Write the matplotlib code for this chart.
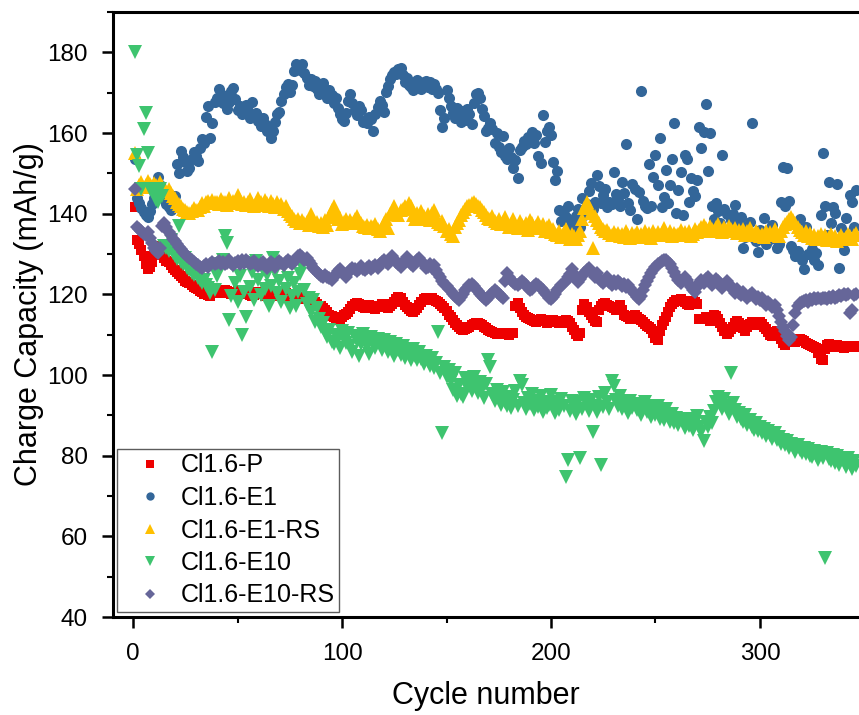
import numpy as np
import matplotlib
matplotlib.use("Agg")
import matplotlib.pyplot as plt
from matplotlib.ticker import MultipleLocator

plt.rcParams['font.family'] = ['Liberation Sans', 'DejaVu Sans']

# Charge capacity (mAh/g) per cycle, starting at cycle 1
cl16_p = [
    141.6, 133.4, 132.5, 131.0, 129.5, 127.5, 126.2, 126.8, 128.0, 130.5,
    132.0, 131.5, 130.4, 129.8, 129.0, 128.3, 127.9, 127.2, 126.5, 126.0,
    125.6, 125.0, 124.6, 124.0, 123.4, 123.0, 122.7, 122.3, 121.9, 121.6,
    121.2, 120.8, 120.5, 120.2, 120.0, 119.8, 119.7, 120.3, 120.8, 121.0,
    120.6, 120.4, 120.7, 121.0, 120.8, 120.5, 120.2, 120.0, 120.4, 120.8,
    121.1, 120.9, 120.6, 120.3, 120.1, 119.8, 119.6, 119.9, 120.3, 120.6,
    120.4, 120.0, 119.7, 119.5, 119.8, 120.2, 120.5, 120.3, 119.9, 119.6,
    119.8, 120.1, 120.4, 120.0, 119.6, 119.3, 119.5, 119.8, 119.4, 119.0,
    118.8, 119.2, 119.5, 119.0, 118.6, 118.3, 118.0, 117.6, 117.2, 117.0,
    116.5, 116.0, 115.5, 115.0, 114.6, 114.3, 114.0, 113.7, 114.0, 114.4,
    114.8, 115.2, 115.6, 116.3, 117.0, 117.6, 117.9, 117.5, 117.2, 116.9,
    116.7, 117.0, 117.3, 117.0, 116.6, 116.4, 116.8, 117.2, 117.5, 117.1,
    116.8, 116.5, 117.0, 117.6, 118.2, 118.8, 119.3, 119.0, 118.2, 117.4,
    116.8, 116.3, 115.9, 115.6, 116.0, 116.6, 117.4, 118.2, 118.8, 119.0,
    118.6, 118.9, 119.1, 118.7, 118.4, 118.0, 117.6, 117.2, 116.5, 115.8,
    115.0, 114.3, 113.6, 112.9, 112.3, 111.8, 111.4, 111.1, 111.3, 111.7,
    112.0, 112.4, 112.6, 112.9, 113.0, 112.7, 112.4, 112.0, 111.6, 111.2,
    110.9, 110.6, 110.4, 110.2, 110.1, 110.3, 110.5, 110.4, 110.2, 110.0,
    110.3, 110.5, 117.0, 117.8, 116.5, 115.6, 114.9, 114.5, 114.2, 113.9,
    113.6, 113.4, 113.2, 113.5, 113.8, 113.6, 113.3, 113.0, 113.2, 113.5,
    113.7, 113.4, 113.1, 112.8, 113.0, 113.3, 113.6, 113.4, 112.8, 112.0,
    111.2, 110.2, 109.6, 110.5, 116.0, 117.6, 116.8, 115.6, 114.8, 114.2,
    113.5, 113.2, 116.0, 117.0, 117.5, 117.8, 117.4, 117.0, 116.8, 116.5,
    116.2, 116.8, 117.3, 116.0, 115.0, 114.6, 114.3, 114.0, 114.4, 114.8,
    114.5, 114.0, 113.6, 113.2, 112.7, 112.2, 111.8, 111.3, 110.5, 109.2,
    108.8, 111.0, 112.4, 113.5, 114.5, 115.6, 116.8, 117.6, 118.2, 118.5,
    118.6, 118.8, 118.4, 118.0, 117.6, 117.3, 117.8, 118.3, 118.0, 117.5,
    114.0, 113.8, 114.0, 114.3, 113.9, 113.5, 114.2, 115.0, 114.6, 114.0,
    113.0, 111.8, 110.8, 110.2, 110.6, 111.3, 112.0, 112.8, 113.4, 113.0,
    112.4, 111.6, 111.0, 111.8, 112.6, 113.2, 113.0, 112.5, 112.8, 113.2,
    112.7, 112.0, 111.3, 110.6, 110.0, 109.6, 110.5, 111.0, 110.2, 108.9,
    108.0, 107.4, 108.6, 109.2, 109.0, 108.6, 108.2, 108.5, 109.0, 108.8,
    108.4, 108.0, 107.8, 107.5, 107.2, 107.0, 106.8, 105.5, 104.0, 103.8,
    106.5, 107.4, 107.6, 107.2, 107.0, 107.3, 107.5, 107.2, 107.0, 106.8,
    107.0, 107.2, 107.1, 106.9, 107.0, 107.2,
]

cl16_e1 = [
    153.5, 144.0, 142.6, 141.4, 140.4, 139.6, 139.2, 140.6, 142.4, 143.8,
    146.4, 149.0, 147.0, 145.2, 143.6, 142.4, 141.6, 140.8, 142.2, 144.4,
    152.4, 150.2, 155.6, 154.0, 152.8, 150.6, 151.2, 153.6, 155.2, 154.2,
    153.0, 156.4, 158.6, 157.6, 164.0, 166.8, 158.8, 162.4, 167.6, 168.6,
    171.0, 169.6, 167.4, 169.2, 166.0, 167.8, 170.4, 171.2, 168.4, 165.6,
    166.8, 164.6, 166.2, 167.0, 165.4, 163.8, 167.6, 164.2, 165.0, 163.0,
    161.8, 163.6, 162.2, 160.4, 161.0, 158.8, 160.6, 162.8, 164.6, 165.2,
    168.0, 169.6, 171.4, 172.2, 170.2, 171.8, 175.4, 177.2, 176.6, 175.6,
    177.0, 174.8, 173.6, 172.0, 173.4, 171.6, 172.8, 170.8, 169.6, 171.6,
    172.4, 170.2, 168.8, 170.6, 169.4, 167.4, 168.6, 166.2, 164.8, 163.4,
    163.0, 165.0, 168.0, 169.6, 167.4, 165.8, 164.4, 166.8, 165.6, 162.8,
    163.2, 162.6, 164.0, 163.4, 160.6, 164.8, 166.4, 168.0, 167.0, 165.2,
    170.2, 171.6, 173.4, 174.4, 175.2, 174.6, 175.8, 176.0, 174.4, 172.6,
    173.6, 172.0, 171.4, 170.6, 172.4, 173.2, 171.8, 170.8, 172.6, 173.0,
    171.4, 172.6, 171.0, 172.2, 170.8, 170.0, 165.6, 161.4, 163.8, 170.6,
    168.6, 166.8, 165.0, 163.6, 166.2, 164.4, 162.8, 165.4, 163.2, 166.0,
    164.6, 162.2, 167.4, 169.6, 170.0, 168.8, 166.0, 164.2, 160.4, 161.2,
    162.4, 161.0, 157.4, 160.0, 156.6, 155.2, 159.2, 154.4, 153.6, 156.2,
    154.0, 151.2, 153.2, 148.8, 155.8, 156.6, 158.0, 157.2, 159.0, 158.4,
    160.2, 157.6, 159.6, 154.2, 152.6, 164.4, 157.8, 160.6, 161.6, 159.4,
    152.8, 148.4, 150.6, 141.0, 138.2, 140.0, 139.2, 142.0, 136.4, 137.6,
    135.8, 139.4, 141.2, 136.6, 143.8, 139.6, 142.4, 145.6, 147.6, 141.2,
    143.0, 149.6, 146.8, 142.6, 144.6, 146.2, 141.6, 143.0, 142.4, 150.4,
    144.8, 143.4, 141.8, 147.8, 145.2, 157.2, 142.6, 141.0, 147.4, 146.0,
    138.8, 145.4, 170.4, 143.2, 142.0, 141.4, 152.2, 141.8, 149.0, 154.6,
    147.0, 158.8, 141.6, 144.2, 150.8, 142.6, 147.2, 153.6, 162.4, 140.2,
    145.8, 150.4, 139.6, 154.6, 153.6, 143.0, 148.8, 145.6, 144.4, 148.4,
    161.4, 156.4, 160.2, 167.2, 150.6, 160.0, 142.0, 138.8, 142.6, 140.6,
    137.8, 154.6, 141.2, 139.8, 136.2, 138.4, 140.0, 142.2, 135.4, 137.6,
    139.2, 131.4, 134.2, 136.6, 138.0, 162.4, 134.0, 133.2, 130.6, 136.0,
    134.8, 139.0, 132.6, 135.4, 133.6, 137.2, 134.4, 131.6, 132.6, 143.0,
    151.6, 142.0, 151.2, 143.2, 132.0, 131.0, 129.6, 130.8, 138.8, 128.4,
    126.4, 136.6, 130.0, 133.8, 131.2, 128.6, 130.2, 127.2, 139.6, 155.0,
    142.0, 134.6, 147.8, 137.8, 141.6, 140.2, 147.4, 126.6, 136.4, 131.0,
    139.0, 133.4, 144.6, 143.0, 136.6, 145.8,
]

cl16_e1_rs = [
    155.0, 146.0, 147.2, 147.8, 146.6, 147.0, 148.0, 147.4, 146.8, 147.6,
    147.0, 146.4, 147.8, 146.8, 146.2, 145.6, 146.0, 145.2, 144.4, 143.8,
    143.0, 142.4, 141.8, 141.2, 140.8, 140.4, 140.2, 140.6, 141.4, 141.0,
    140.8, 141.6, 142.6, 142.0, 142.8, 143.2, 142.6, 143.4, 142.8, 143.0,
    142.4, 143.6, 142.8, 143.0, 142.2, 143.8, 142.6, 143.2, 142.8, 144.6,
    143.4, 142.4, 143.0, 142.2, 142.8, 143.6, 142.4, 142.0, 142.6, 143.8,
    142.8, 142.2, 143.4, 142.6, 141.8, 143.2, 142.4, 141.6, 142.8, 141.8,
    142.4, 141.2, 141.8, 140.6, 140.0, 139.4, 138.8, 138.2, 138.6, 137.8,
    138.4, 137.6, 138.0, 137.2, 139.8, 138.2, 137.4, 138.0, 137.0, 137.6,
    136.8, 138.4, 137.2, 139.2, 140.8, 141.8, 140.2, 138.6, 139.0, 137.4,
    138.0, 138.8, 137.6, 138.4, 137.8, 138.6, 139.4, 138.2, 137.6, 137.0,
    136.6, 137.2, 136.4, 137.0, 136.8, 137.4, 136.2, 135.8, 136.4, 137.6,
    138.6, 136.4, 139.8, 140.6, 141.8, 140.4, 139.6, 140.8, 141.2, 142.0,
    141.4, 142.6, 141.8, 139.6, 138.8, 140.2, 139.0, 140.6, 139.4, 138.6,
    139.8, 138.4, 140.2, 141.0, 139.2, 138.0, 137.4, 138.2, 137.0, 135.6,
    136.2, 135.0, 134.4, 136.6, 137.8, 138.4, 139.6, 140.4, 141.2, 141.8,
    142.2, 142.6, 142.8, 142.4, 142.0, 141.6, 141.0, 140.4, 139.6, 139.0,
    138.6, 139.4, 138.2, 137.6, 138.8, 137.4, 138.0, 139.2, 137.8, 136.8,
    137.4, 138.6, 137.0, 136.4, 138.2, 137.2, 136.6, 137.8, 136.0, 138.4,
    137.6, 136.4, 137.0, 138.0, 136.8, 137.4, 135.8, 136.6, 137.2, 135.4,
    136.2, 135.0, 134.6, 135.8, 134.2, 135.4, 136.2, 134.8, 133.8, 135.0,
    134.4, 133.6, 134.8, 135.8, 138.6, 141.4, 142.8, 141.6, 140.2, 131.4,
    139.4, 138.4, 137.6, 136.8, 136.2, 135.6, 136.0, 135.2, 134.8, 135.4,
    134.6, 135.2, 134.4, 135.0, 134.2, 135.6, 134.8, 134.0, 135.2, 134.6,
    135.4, 134.2, 135.0, 134.4, 135.8, 134.6, 135.2, 134.0, 135.6, 134.8,
    135.4, 134.6, 135.2, 136.4, 135.0, 134.8, 135.6, 134.4, 135.2, 134.6,
    135.0, 136.0, 134.8, 135.4, 134.6, 135.8, 134.4, 135.0, 136.2, 135.4,
    136.0, 136.8, 137.2, 136.4, 135.8, 137.0, 136.2, 135.6, 136.8, 137.4,
    136.0, 135.4, 136.6, 135.8, 137.0, 136.2, 135.6, 136.4, 135.2, 136.0,
    135.4, 136.2, 134.8, 135.6, 136.4, 135.0, 134.6, 135.8, 135.2, 134.4,
    135.0, 134.2, 135.6, 134.8, 135.4, 134.6, 136.2, 135.0, 134.4, 135.8,
    136.6, 137.4, 138.0, 138.8, 139.2, 138.4, 137.6, 136.8, 136.0, 135.4,
    134.8, 135.6, 134.4, 135.2, 134.0, 134.8, 133.6, 134.4, 135.0, 133.8,
    134.6, 133.4, 134.2, 135.0, 133.8, 134.4, 133.2, 134.0, 134.8, 133.6,
    134.2, 135.0, 134.4, 133.8, 134.6, 135.2,
]

cl16_e10 = [
    180.0, 154.5, 151.7, 146.0, 161.0, 165.0, 155.0, 146.0, 145.5, 145.0,
    143.5, 142.8, 146.0, 144.5, 132.0, 131.5, 130.8, 133.5, 130.2, 129.6,
    128.8, 137.0, 128.0, 127.5, 129.0, 126.6, 126.0, 125.3, 124.8, 125.6,
    124.0, 123.5, 122.8, 123.6, 122.2, 121.5, 120.3, 105.7, 121.0, 124.5,
    126.3, 127.5, 128.6, 134.5, 132.7, 113.6, 119.5, 127.0, 122.8, 118.0,
    124.6, 109.9, 120.5, 114.4, 127.8, 121.8, 125.6, 118.6, 128.2, 123.5,
    119.8, 126.0, 121.2, 124.8, 117.2, 122.0, 129.0, 125.5, 120.4, 123.2,
    118.0, 126.8, 121.4, 124.0, 116.5, 119.6, 122.8, 117.0, 120.5, 125.0,
    126.7, 121.0, 117.5, 119.0, 115.6, 118.6, 113.2, 116.6, 114.0, 111.8,
    112.8, 110.6, 109.4, 111.2, 108.2, 107.6, 110.0, 109.0, 106.8, 110.8,
    109.2, 108.0, 110.5, 107.2, 105.8, 109.6, 108.4, 104.8, 107.6, 110.2,
    108.8, 107.0, 105.2, 109.4, 108.0, 106.6, 109.0, 107.8, 106.2, 108.6,
    107.4, 105.8, 108.2, 106.8, 104.6, 107.6, 106.2, 105.0, 107.2, 104.2,
    106.0, 105.2, 103.8, 106.4, 104.8, 103.6, 105.6, 104.0, 102.8, 104.6,
    103.4, 102.2, 104.2, 101.8, 103.0, 110.6, 100.6, 85.5, 102.0, 99.4,
    101.2, 98.6, 96.2, 100.4, 94.8, 97.6, 95.4, 94.6, 99.2, 97.0,
    98.4, 96.0, 99.6, 97.4, 95.6, 98.2, 96.6, 94.2, 97.8, 103.6,
    102.0, 95.2, 93.6, 96.4, 94.8, 92.6, 95.8, 93.4, 92.2, 94.6,
    91.8, 93.8, 96.0, 92.4, 98.4, 97.6, 93.0, 91.6, 94.4, 92.8,
    95.2, 91.4, 93.6, 92.0, 94.8, 90.8, 93.2, 91.8, 92.6, 95.0,
    92.2, 90.6, 93.4, 91.2, 94.0, 92.4, 74.8, 78.9, 91.0, 93.6,
    92.0, 90.4, 93.2, 79.4, 91.6, 94.4, 92.8, 91.0, 93.8, 85.9,
    92.4, 90.8, 94.6, 77.7, 92.0, 95.6, 93.4, 91.6, 98.4, 97.2,
    93.8, 92.4, 94.8, 91.6, 93.2, 92.0, 90.6, 93.6, 91.8, 92.8,
    91.2, 92.6, 90.2, 91.8, 93.4, 90.8, 92.2, 89.6, 91.4, 90.0,
    92.4, 89.2, 90.8, 88.8, 91.6, 89.8, 88.4, 90.4, 88.0, 89.4,
    87.6, 89.0, 88.6, 86.8, 89.2, 87.4, 88.6, 86.4, 88.0, 89.8,
    87.2, 85.8, 83.6, 88.4, 87.0, 89.6, 88.2, 91.0, 93.4, 94.6,
    92.8, 91.6, 94.0, 92.2, 90.4, 100.4, 93.0, 91.4, 89.6, 90.6,
    89.0, 88.4, 90.0, 87.6, 88.8, 87.0, 86.4, 88.2, 86.0, 87.2,
    85.6, 86.6, 84.8, 86.0, 85.2, 84.2, 85.6, 83.8, 84.6, 83.0,
    84.0, 82.6, 83.6, 81.8, 83.0, 82.2, 80.8, 82.6, 81.4, 80.6,
    82.0, 80.4, 81.6, 80.0, 79.6, 81.2, 80.2, 79.0, 80.8, 79.4,
    54.6, 80.6, 79.2, 78.6, 80.2, 78.2, 79.8, 77.6, 79.0, 78.4,
    77.2, 79.4, 78.0, 76.8, 78.6, 77.4,
]

cl16_e10_rs = [
    146.0, 136.8, 136.2, 135.6, 135.0, 134.6, 135.4, 134.0, 132.8, 131.6,
    130.8, 130.2, 131.4, 137.0, 137.8, 136.6, 135.4, 134.6, 133.8, 133.2,
    132.6, 131.8, 131.2, 130.6, 130.0, 129.6, 129.0, 128.4, 128.0, 127.6,
    127.2, 126.8, 126.6, 127.0, 127.4, 126.8, 127.6, 128.0, 127.4, 127.8,
    128.2, 127.6, 128.0, 127.4, 127.8, 128.4, 127.8, 127.2, 127.8, 128.2,
    127.6, 128.4, 127.8, 128.6, 128.0, 127.4, 127.8, 128.2, 127.6, 127.0,
    127.4, 128.0, 127.2, 126.6, 127.4, 128.0, 127.6, 126.8, 127.4, 128.2,
    127.8, 127.2, 128.0, 128.6, 128.0, 127.4, 128.2, 128.8, 129.4, 129.8,
    129.2, 128.6, 129.0, 128.2, 127.4, 126.6, 126.0, 125.6, 125.0, 124.6,
    124.2, 124.8, 124.4, 124.0, 123.6, 124.2, 125.0, 125.8, 126.4, 125.6,
    125.0, 124.4, 125.2, 126.0, 126.6, 126.2, 125.8, 126.4, 127.0, 126.4,
    126.0, 126.6, 127.0, 126.4, 126.8, 127.2, 126.6, 127.4, 128.0, 128.6,
    128.0, 127.6, 128.8, 129.6, 128.8, 128.0, 127.4, 126.8, 127.6, 128.4,
    129.2, 128.4, 127.6, 127.0, 127.8, 128.6, 129.0, 128.2, 127.4, 126.6,
    126.8, 127.4, 126.6, 127.2, 126.0, 125.0, 124.2, 123.4, 122.6, 122.0,
    121.4, 120.8, 120.2, 119.6, 119.0, 118.6, 119.4, 120.2, 121.0, 121.6,
    122.2, 122.6, 122.0, 121.4, 120.8, 120.2, 119.6, 119.0, 118.6, 119.2,
    119.8, 120.4, 121.0, 120.6, 120.0, 119.6, 119.2, 123.4, 125.2, 124.4,
    123.6, 123.0, 122.6, 122.2, 122.8, 123.4, 122.8, 122.2, 121.6, 121.0,
    121.4, 122.0, 122.6, 122.2, 121.6, 121.0, 120.4, 119.8, 119.2, 118.8,
    119.4, 120.2, 121.0, 121.6, 122.2, 122.8, 123.4, 124.2, 125.0, 126.2,
    125.0, 124.0, 123.0, 123.8, 124.6, 125.2, 126.0, 126.6, 125.8, 125.0,
    124.4, 125.2, 124.0, 123.4, 122.8, 123.6, 124.2, 123.0, 122.4, 123.2,
    122.6, 123.4, 122.8, 122.0, 122.6, 121.8, 122.4, 121.6, 120.8, 120.0,
    119.4, 118.8, 119.6, 121.0, 122.4, 123.4, 124.4, 125.2, 126.0, 126.8,
    127.4, 127.8, 128.2, 128.6, 128.4, 128.0, 127.4, 126.6, 125.6, 124.6,
    123.6, 122.8, 123.6, 124.4, 123.6, 122.6, 121.8, 121.0, 120.6, 121.8,
    122.8, 123.6, 122.8, 123.8, 124.2, 123.2, 122.4, 123.0, 123.8, 123.2,
    122.4, 121.6, 122.4, 123.2, 122.6, 121.8, 121.0, 120.4, 121.2, 120.4,
    119.8, 120.6, 119.8, 119.0, 119.8, 120.4, 119.6, 118.8, 119.4, 118.6,
    119.2, 118.0, 117.4, 118.2, 117.6, 116.8, 117.4, 116.0, 114.6, 113.2,
    112.0, 111.0, 109.6, 108.8, 109.4, 112.4, 115.4, 117.0, 117.8, 118.2,
    118.4, 118.6, 118.2, 118.8, 118.6, 119.0, 118.8, 119.2, 118.8, 119.0,
    119.2, 118.8, 119.4, 119.2, 119.6, 119.0, 119.4, 119.8, 119.6, 120.0,
    119.8, 120.2, 115.4, 116.0, 119.8, 120.0,
]

labels = ["Cl1.6-P", "Cl1.6-E1", "Cl1.6-E1-RS", "Cl1.6-E10", "Cl1.6-E10-RS"]
series = [cl16_p, cl16_e1, cl16_e1_rs, cl16_e10, cl16_e10_rs]
colors = ["#EE0000", "#336699", "#FFC000", "#3EC46F", "#666699"]
markers = ["s", "o", "^", "v", "D"]
sizes = [7.4, 8.0, 9.4, 9.4, 6.8]

W, H = 859, 715
fig = plt.figure(figsize=(W / 100, H / 100), dpi=100)
ax = fig.add_axes([113 / W, 1 - 617 / H, 1 - 113 / W, (617 - 12) / H])

for z, (vals, lab, col, mk, ms) in enumerate(zip(series, labels, colors, markers, sizes)):
    cyc = np.arange(1, len(vals) + 1)
    ax.plot(cyc, vals, linestyle="none", marker=mk, markersize=ms,
            color=col, markeredgewidth=0, label=lab, zorder=2 + z)

ax.set_xlim(-9.6, 347.4)
ax.set_ylim(40, 190)
ax.xaxis.set_major_locator(MultipleLocator(100))
ax.xaxis.set_minor_locator(MultipleLocator(50))
ax.yaxis.set_minor_locator(MultipleLocator(10))
ax.set_yticks(np.arange(40, 181, 20))

for side in ("left", "top", "bottom"):
    ax.spines[side].set_linewidth(2.2)
ax.spines["right"].set_visible(False)

ax.tick_params(which="major", direction="out", length=8, width=1.8,
               labelsize=17.5, top=False, right=False)
ax.tick_params(which="minor", direction="out", length=4.5, width=1.5,
               top=False, right=False)
ax.tick_params(axis="x", which="major", pad=11)
ax.tick_params(axis="y", which="major", pad=10)

ax.set_xlabel("Cycle number", fontsize=22, labelpad=11)
ax.set_ylabel("Charge Capacity (mAh/g)", fontsize=22, labelpad=2)

leg = ax.legend(loc="lower left", bbox_to_anchor=(117 / W, 1 - 612 / H),
                bbox_transform=fig.transFigure, borderaxespad=0,
                fontsize=18, frameon=True, fancybox=False, shadow=False,
                borderpad=0.18, labelspacing=0.34, handlelength=2.3,
                handletextpad=0.05, markerscale=0.75, numpoints=1)
leg.get_frame().set_edgecolor("#333333")
leg.get_frame().set_linewidth(1.0)

fig.savefig("out.png", dpi=100)
